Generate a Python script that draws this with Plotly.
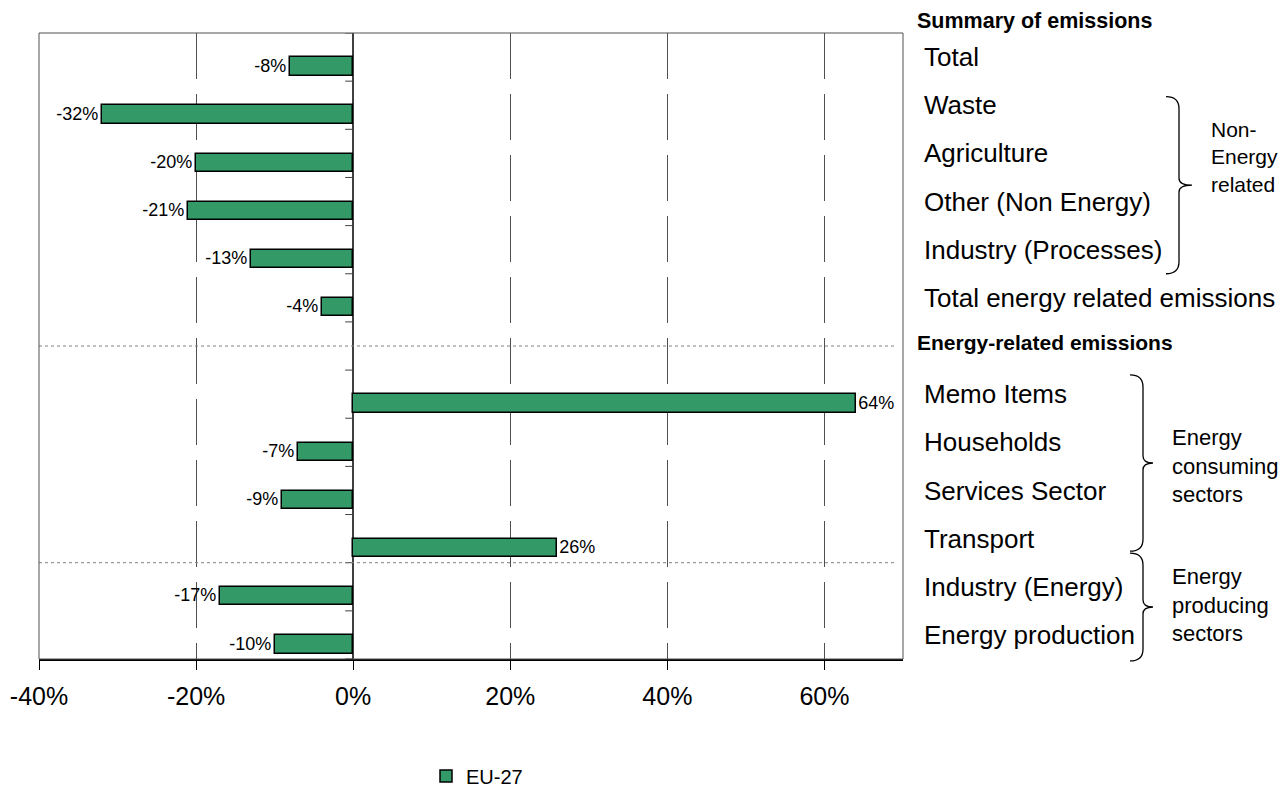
import plotly.graph_objects as go

# ---- data -------------------------------------------------------------
categories = [
    "Total",
    "Waste",
    "Agriculture",
    "Other (Non Energy)",
    "Industry (Processes)",
    "Total energy related emissions",
    " ",
    "Memo Items",
    "Households",
    "Services Sector",
    "Transport",
    "Industry (Energy)",
    "Energy production",
]
change_pct = [-8, -32, -20, -21, -13, -4, None, 64, -7, -9, 26, -17, -10]
series_name = "EU-27"

x_tick_values = [-40, -20, 0, 20, 40, 60]
x_tick_labels = ["-40%", "-20%", "0%", "20%", "40%", "60%"]

header_summary = "Summary of emissions"
header_energy = "Energy-related emissions"
group_non_energy = ["Non-", "Energy", "related"]
group_consuming = ["Energy", "consuming", "sectors"]
group_producing = ["Energy", "producing", "sectors"]

# value labels written from the same numbers the bars use
bar_labels = ["" if v is None else f"{v}%" for v in change_pct]

# ---- geometry ---------------------------------------------------------
W, H = 1288, 787
ML, MR, MT, MB = 39, 385, 33, 128
PW, PH = W - ML - MR, H - MT - MB
N = len(categories)
ROW = PH / N
FONT = "Liberation Sans, Arial, sans-serif"
BAR_GREEN = "#339966"


def idx(name):
    return categories.index(name)


def row_to_py(pos):
    """category position (index units) -> pixel y"""
    return MT + (pos + 0.5) * ROW


def px_to_paper_x(px):
    return (px - ML) / PW


def py_to_paper_y(py):
    return (MT + PH - py) / PH


def brace_path(x_tip, x_spine, x_point, y_top, y_bot, r=12, r2=7):
    y_mid = (y_top + y_bot) / 2
    pts = [
        ("M", [(x_tip, y_top)]),
        ("Q", [(x_spine, y_top), (x_spine, y_top + r)]),
        ("L", [(x_spine, y_mid - r2)]),
        ("Q", [(x_spine, y_mid), (x_point, y_mid)]),
        ("Q", [(x_spine, y_mid), (x_spine, y_mid + r2)]),
        ("L", [(x_spine, y_bot - r)]),
        ("Q", [(x_spine, y_bot), (x_tip, y_bot)]),
    ]
    out = []
    for cmd, coords in pts:
        c = " ".join(f"{px_to_paper_x(x):.5f},{py_to_paper_y(y):.5f}" for x, y in coords)
        out.append(f"{cmd} {c}")
    return " ".join(out)


fig = go.Figure()

fig.add_trace(
    go.Bar(
        x=change_pct,
        y=categories,
        orientation="h",
        name=series_name,
        width=0.382,
        offset=0.004,
        marker=dict(color=BAR_GREEN, line=dict(color="#000000", width=1.5)),
        text=bar_labels,
        texttemplate="%{text}",
        textposition="outside",
        textfont=dict(family=FONT, size=18, color="#000000"),
        constraintext="none",
        cliponaxis=False,
        hoverinfo="skip",
    )
)

shapes = []

# short ticks on the 0% axis at the category boundaries
for b in range(N + 1):
    shapes.append(
        dict(type="line", xref="x", yref="y", xsizemode="pixel", xanchor=0,
             x0=-8, x1=0, y0=b - 0.5, y1=b - 0.5,
             line=dict(color="#404040", width=1))
    )

# dotted separators between the blocks
for ysep in [idx(" "), (idx("Transport") + idx("Industry (Energy)")) / 2]:
    shapes.append(
        dict(type="line", xref="paper", yref="y", x0=0, x1=px_to_paper_x(896),
             y0=ysep, y1=ysep, line=dict(color="#808080", width=1, dash="dot"))
    )

# plot frame
shapes.append(
    dict(type="rect", xref="paper", yref="paper", x0=0, x1=1, y0=0, y1=1,
         line=dict(color="#505050", width=1), layer="above")
)

# braces grouping the row labels
brace_specs = [
    (1166, 1179, 1192, row_to_py(idx("Waste") - 0.18), row_to_py(idx("Industry (Processes)") + 0.5)),
    (1130, 1143, 1153, row_to_py(idx("Memo Items") - 0.4), row_to_py(idx("Transport") + 0.26)),
    (1130, 1143, 1153, row_to_py(idx("Industry (Energy)") - 0.7), row_to_py(idx("Energy production") + 0.54)),
]
for spec in brace_specs:
    shapes.append(
        dict(type="path", xref="paper", yref="paper", path=brace_path(*spec),
             line=dict(color="#000000", width=1.3))
    )

annotations = [
    dict(text=f"<b>{header_summary}</b>", xref="paper", yref="paper",
         x=px_to_paper_x(915), y=py_to_paper_y(row_to_py(idx("Total") - 0.75)),
         xanchor="left", yanchor="middle", showarrow=False,
         font=dict(family=FONT, size=21.5, color="#000000")),
    dict(text=f"<b>{header_energy}</b>", xref="paper", yref="paper",
         x=px_to_paper_x(915), y=py_to_paper_y(row_to_py(idx(" ") - 0.08)),
         xanchor="left", yanchor="middle", showarrow=False,
         font=dict(family=FONT, size=21, color="#000000")),
]

group_labels = [
    (group_non_energy, 1209, (brace_specs[0][3] + brace_specs[0][4]) / 2 - 28, 21),
    (group_consuming, 1170, (brace_specs[1][3] + brace_specs[1][4]) / 2 + 3, 22),
    (group_producing, 1170, (brace_specs[2][3] + brace_specs[2][4]) / 2 - 2, 22),
]
for lines, xl, ymid, fs in group_labels:
    annotations.append(
        dict(text="<br>".join(lines), xref="paper", yref="paper",
             x=px_to_paper_x(xl), y=py_to_paper_y(ymid), xanchor="left",
             yanchor="middle", align="left", showarrow=False,
             font=dict(family=FONT, size=fs, color="#000000"))
    )

fig.update_layout(
    width=W,
    height=H,
    margin=dict(l=ML, r=MR, t=MT, b=MB, pad=0, autoexpand=False),
    paper_bgcolor="#ffffff",
    plot_bgcolor="#ffffff",
    font=dict(family=FONT, color="#000000"),
    bargap=0,
    showlegend=True,
    legend=dict(
        orientation="h",
        x=px_to_paper_x(477), xanchor="center",
        y=py_to_paper_y(776), yanchor="middle",
        font=dict(family=FONT, size=20, color="#000000"),
        bgcolor="rgba(0,0,0,0)",
    ),
    xaxis=dict(
        range=[-40, 70],
        tickvals=x_tick_values,
        ticktext=x_tick_labels,
        ticks="outside",
        ticklen=9,
        tickcolor="#000000",
        tickwidth=1,
        ticklabelstandoff=5,
        tickfont=dict(family=FONT, size=25, color="#000000"),
        showline=True,
        linecolor="#000000",
        linewidth=1.5,
        showgrid=True,
        gridcolor="#505050",
        gridwidth=1,
        griddash="46px,15px",
        zeroline=True,
        zerolinecolor="#404040",
        zerolinewidth=1.5,
        fixedrange=True,
    ),
    yaxis=dict(
        type="category",
        categoryorder="array",
        categoryarray=categories,
        range=[N - 0.5, -0.5],
        side="right",
        ticks="",
        ticklabelstandoff=20,
        showgrid=False,
        zeroline=False,
        showline=False,
        tickfont=dict(family=FONT, size=26, color="#000000"),
        fixedrange=True,
    ),
    shapes=shapes,
    annotations=annotations,
)

fig.write_html("out.html")
